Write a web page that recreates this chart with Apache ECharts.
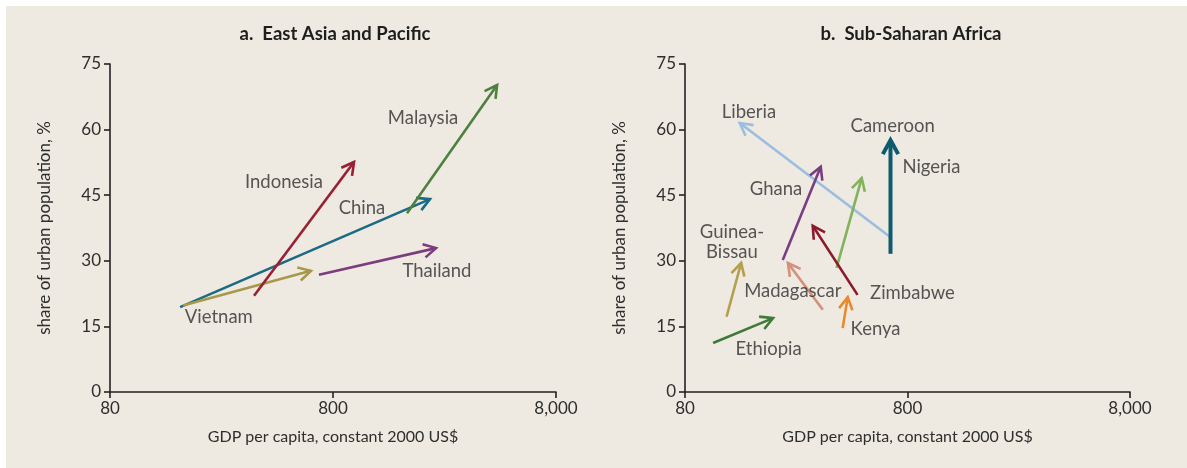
<!DOCTYPE html>
<html>
<head>
<meta charset="utf-8">
<script src="https://cdn.jsdelivr.net/npm/echarts@6/dist/echarts.min.js"></script>
<style>
  html, body { margin: 0; padding: 0; background: #ffffff; }
  #chart { width: 1187px; height: 468px; }
</style>
</head>
<body>
<div id="chart"></div>
<script>
// ---------- DATA ----------
// x tick labels (GDP per capita, constant 2000 US$, log scale)
const xTicks = [80, 800, 8000];
const yTicks = [0, 15, 30, 45, 60, 75];

// Panel a: East Asia and Pacific
const eapCountries   = ['China', 'Vietnam', 'Indonesia', 'Thailand', 'Malaysia'];
const eapGdpStart    = [165, 170, 354, 692, 1718];
const eapUrbanStart  = [19.4, 19.8, 22.0, 26.8, 40.9];
const eapGdpEnd      = [2178, 637, 994, 2318, 4355];
const eapUrbanEnd    = [44.1, 27.7, 52.6, 32.9, 70.2];
const eapLabelGdp    = [1079, 246, 482, 2340, 2027];
const eapLabelUrban  = [42.1, 17.2, 48.0, 27.7, 62.7];

// Panel b: Sub-Saharan Africa
const ssaArrows      = ['Liberia', 'Cameroon/Nigeria', 'Ghana', 'Cameroon/Nigeria (2)', 'Zimbabwe', 'Madagascar', 'Kenya', 'Guinea-Bissau', 'Ethiopia'];
const ssaGdpStart    = [671, 671, 220, 384, 477, 333, 409, 123, 107];
const ssaUrbanStart  = [35.4, 31.6, 30.2, 28.4, 22.2, 18.8, 14.6, 17.2, 11.2];
const ssaGdpEnd      = [141, 671, 326, 498, 300, 232, 431, 143, 199];
const ssaUrbanEnd    = [61.5, 57.6, 51.5, 48.9, 38.0, 29.5, 21.7, 29.5, 16.9];
const ssaLabels      = ['Liberia', 'Cameroon', 'Nigeria', 'Ghana', 'Guinea-\nBissau', 'Madagascar', 'Zimbabwe', 'Kenya', 'Ethiopia'];
const ssaLabelGdp    = [155, 686, 1025, 205, 130, 244, 842, 575, 190];
const ssaLabelUrban  = [64.0, 60.8, 51.5, 46.4, 34.3, 23.1, 22.6, 14.4, 9.8];

// ---------- STYLE ----------
const eapColors = ['#1d6a84', '#a8984a', '#9a1f33', '#7c3d7e', '#4e8040'];
const eapWidths = [2.6, 2.6, 2.6, 2.6, 2.6];
const ssaColors = ['#9dbde0', '#0e5a6e', '#7a3d82', '#82b25c', '#8b1a2b', '#d4907a', '#e88a2a', '#b3a04e', '#3f7a3a'];
const ssaWidths = [2.6, 4, 2.6, 2.6, 2.6, 2.6, 2.6, 2.6, 2.6];

const FONT = 'Lato, "Open Sans", sans-serif';
const TXT = '#2e2e2e';

const lx = v => Math.log10(v / 80);   // position on the log axis (decades above 80)

function arrowData(g0, u0, g1, u1) {
  return g0.map((_, i) => [lx(g0[i]), u0[i], lx(g1[i]), u1[i]]);
}
function labelData(g, u, names) {
  return g.map((_, i) => ({ value: [lx(g[i]), u[i]], name: names[i] }));
}

function makeRender(colors, widths) {
  return function (params, api) {
    const i = params.dataIndex;
    const p0 = api.coord([api.value(0), api.value(1)]);
    const p1 = api.coord([api.value(2), api.value(3)]);
    const ang = Math.atan2(p1[1] - p0[1], p1[0] - p0[0]);
    const w = widths[i];
    const len = w > 3 ? 16 : 14;
    const spread = 0.5;
    const h1 = [p1[0] - len * Math.cos(ang - spread), p1[1] - len * Math.sin(ang - spread)];
    const h2 = [p1[0] - len * Math.cos(ang + spread), p1[1] - len * Math.sin(ang + spread)];
    const style = { stroke: colors[i], lineWidth: w, fill: null, lineCap: 'butt', lineJoin: 'miter' };
    return {
      type: 'group',
      children: [
        { type: 'line', shape: { x1: p0[0], y1: p0[1], x2: p1[0], y2: p1[1] }, style: style },
        { type: 'polyline', shape: { points: [h1, p1, h2] }, style: style }
      ]
    };
  };
}

function xAxisCfg(idx) {
  return {
    gridIndex: idx, type: 'value', min: 0, max: 2, interval: 1,
    name: 'GDP per capita, constant 2000 US$', nameLocation: 'middle', nameGap: 37,
    nameTextStyle: { fontFamily: FONT, fontSize: 16, color: TXT },
    axisLine: { show: true, onZero: false, lineStyle: { color: '#222', width: 1.6 } },
    axisTick: { show: true, length: 6, lineStyle: { color: '#222', width: 1.6 } },
    axisLabel: {
      fontFamily: FONT, fontSize: 17, color: TXT, margin: 8,
      formatter: v => (80 * Math.pow(10, v)).toLocaleString('en-US', { maximumFractionDigits: 0 })
    },
    splitLine: { show: false }
  };
}
function yAxisCfg(idx) {
  return {
    gridIndex: idx, type: 'value', min: 0, max: 75, interval: 15,
    name: 'share of urban population, %', nameLocation: 'middle', nameGap: 57,
    nameTextStyle: { fontFamily: FONT, fontSize: 17, color: TXT },
    axisLine: { show: true, lineStyle: { color: '#222', width: 1.6 } },
    axisTick: { show: true, length: 6, lineStyle: { color: '#222', width: 1.6 } },
    axisLabel: { fontFamily: FONT, fontSize: 17, color: TXT, margin: 9 },
    splitLine: { show: false }
  };
}

const labelStyle = {
  show: true, position: 'inside', formatter: '{b}',
  fontFamily: FONT, fontSize: 18.5, color: TXT, lineHeight: 20, align: 'center', verticalAlign: 'middle'
};

const chart = echarts.init(document.getElementById('chart'), null, { renderer: 'canvas' });
chart.setOption({
  backgroundColor: '#ffffff',
  animation: false,
  graphic: [{ type: 'rect', left: 6, top: 6, shape: { width: 1181, height: 462 }, style: { fill: '#eeeae1' }, z: -10 }],
  title: [
    { text: 'a.  East Asia and Pacific', left: 330, top: 20, textAlign: 'center',
      textStyle: { fontFamily: FONT, fontSize: 18.5, fontWeight: 'bold', color: '#1e1e1e' } },
    { text: 'b.  Sub-Saharan Africa', left: 906, top: 20, textAlign: 'center',
      textStyle: { fontFamily: FONT, fontSize: 18.5, fontWeight: 'bold', color: '#1e1e1e' } }
  ],
  grid: [
    { left: 110, top: 64, width: 446, height: 328, containLabel: false },
    { left: 685, top: 64, width: 445, height: 328, containLabel: false }
  ],
  xAxis: [xAxisCfg(0), xAxisCfg(1)],
  yAxis: [yAxisCfg(0), yAxisCfg(1)],
  series: [
    { type: 'custom', xAxisIndex: 0, yAxisIndex: 0, renderItem: makeRender(eapColors, eapWidths),
      data: arrowData(eapGdpStart, eapUrbanStart, eapGdpEnd, eapUrbanEnd), silent: true, clip: false },
    { type: 'custom', xAxisIndex: 1, yAxisIndex: 1, renderItem: makeRender(ssaColors, ssaWidths),
      data: arrowData(ssaGdpStart, ssaUrbanStart, ssaGdpEnd, ssaUrbanEnd), silent: true, clip: false },
    { type: 'scatter', xAxisIndex: 0, yAxisIndex: 0, symbolSize: 0, silent: true,
      data: labelData(eapLabelGdp, eapLabelUrban, eapCountries), label: labelStyle },
    { type: 'scatter', xAxisIndex: 1, yAxisIndex: 1, symbolSize: 0, silent: true,
      data: labelData(ssaLabelGdp, ssaLabelUrban, ssaLabels), label: labelStyle }
  ]
});
</script>
</body>
</html>
